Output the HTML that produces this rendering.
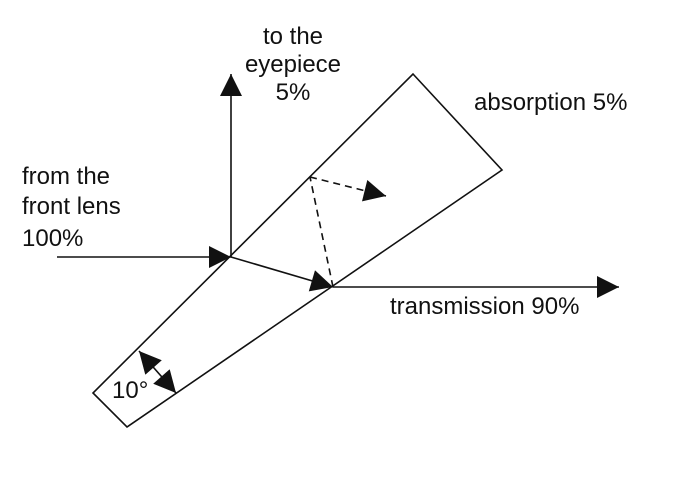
<!DOCTYPE html>
<html><head><style>
body{margin:0;background:#fff}
svg text{font-family:"Liberation Sans",Arial,sans-serif;font-size:24px;fill:#111}
</style></head><body>
<svg width="700" height="483" viewBox="0 0 700 483" xmlns="http://www.w3.org/2000/svg">
<defs>
<marker id="a" viewBox="0 0 10 10" refX="10" refY="5" markerWidth="24" markerHeight="22" markerUnits="userSpaceOnUse" orient="auto-start-reverse">
<path d="M0,0 L10,5 L0,10 z" fill="#111"/></marker>
</defs>
<g stroke="#111" stroke-width="1.6" fill="none">
<polygon points="413,74 502,170 127,427 93,393"/>
<line x1="231" y1="257" x2="231" y2="74" marker-end="url(#a)"/>
<line x1="57" y1="257" x2="231" y2="257" marker-end="url(#a)"/>
<line x1="231" y1="257" x2="333" y2="287" marker-end="url(#a)"/>
<line x1="333" y1="287" x2="619" y2="287" marker-end="url(#a)"/>
<polyline points="333,287 310,177" stroke-dasharray="7,5"/>
<line x1="310" y1="177" x2="386" y2="196" stroke-dasharray="7,5" marker-end="url(#a)"/>
<line x1="139" y1="351" x2="176" y2="393" marker-start="url(#a)" marker-end="url(#a)"/>
</g>
<text x="293" y="44" text-anchor="middle">to the</text>
<text x="293" y="72" text-anchor="middle">eyepiece</text>
<text x="293" y="100" text-anchor="middle">5%</text>
<text x="474" y="110">absorption 5%</text>
<text x="22" y="184">from the</text>
<text x="22" y="214">front lens</text>
<text x="22" y="246">100%</text>
<text x="390" y="314">transmission 90%</text>
<text x="112" y="398">10°</text>
</svg>
</body></html>
